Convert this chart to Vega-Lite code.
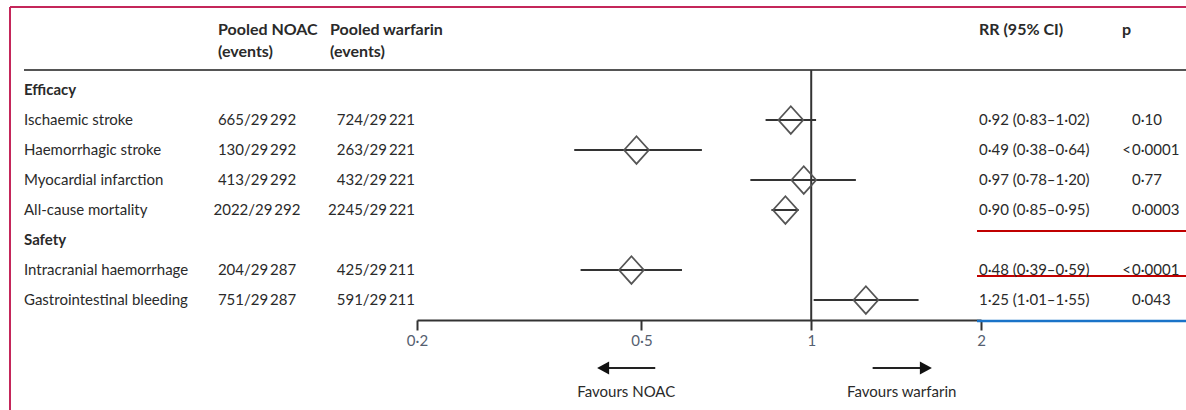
{
  "$schema": "https://vega.github.io/schema/vega-lite/v6.json",
  "padding": {"left": 9, "top": 6, "right": 0, "bottom": 0},
  "autosize": {"type": "pad"},
  "background": "white",
  "bounds": "flush",
  "spacing": 0,
  "config": {
    "view": {"stroke": null},
    "text": {"font": "Lato", "fontSize": 15, "color": "#2a2a2a"},
    "axis": {"grid": false, "title": null}
  },
  "datasets": {
    "rows": [
      {"label": "Ischaemic stroke", "noac": "665/29\u2009292", "warf": "724/29\u2009221", "rr": 0.92, "lo": 0.83, "hi": 1.02, "rrText": "0·92 (0·83–1·02)", "pSign": "", "pVal": "0·10"},
      {"label": "Haemorrhagic stroke", "noac": "130/29\u2009292", "warf": "263/29\u2009221", "rr": 0.49, "lo": 0.38, "hi": 0.64, "rrText": "0·49 (0·38–0·64)", "pSign": "<", "pVal": "0·0001"},
      {"label": "Myocardial infarction", "noac": "413/29\u2009292", "warf": "432/29\u2009221", "rr": 0.97, "lo": 0.78, "hi": 1.20, "rrText": "0·97 (0·78–1·20)", "pSign": "", "pVal": "0·77"},
      {"label": "All-cause mortality", "noac": "2022/29\u2009292", "warf": "2245/29\u2009221", "rr": 0.90, "lo": 0.85, "hi": 0.95, "rrText": "0·90 (0·85–0·95)", "pSign": "", "pVal": "0·0003"},
      {"label": "Intracranial haemorrhage", "noac": "204/29\u2009287", "warf": "425/29\u2009211", "rr": 0.48, "lo": 0.39, "hi": 0.59, "rrText": "0·48 (0·39–0·59)", "pSign": "<", "pVal": "0·0001"},
      {"label": "Gastrointestinal bleeding", "noac": "751/29\u2009287", "warf": "591/29\u2009211", "rr": 1.25, "lo": 1.01, "hi": 1.55, "rrText": "1·25 (1·01–1·55)", "pSign": "", "pVal": "0·043"}
    ],
    "sections": [{"label": "Efficacy"}, {"label": "Safety"}],
    "headers": [
      {"col": "noac", "line1": "Pooled NOAC", "line2": "(events)"},
      {"col": "warf", "line1": "Pooled warfarin", "line2": "(events)"},
      {"col": "rr", "line1": "RR (95% CI)", "line2": ""},
      {"col": "p", "line1": "p", "line2": ""}
    ],
    "favours": [
      {"side": "NOAC", "label": "Favours NOAC"},
      {"side": "warfarin", "label": "Favours warfarin"}
    ],
    "one": [{"part": "line"}]
  },
  "hconcat": [
    {
      "width": 204, "height": 313,
      "layer": [
        {"data": {"name": "one"}, "mark": {"type": "rule", "color": "#c4265a", "strokeWidth": 2, "yOffset": -23},
         "encoding": {"y": {"datum": "header", "type": "nominal", "scale": {"type": "point", "domain": ["header","gap","Efficacy","Ischaemic stroke","Haemorrhagic stroke","Myocardial infarction","All-cause mortality","Safety","Intracranial haemorrhage","Gastrointestinal bleeding"], "padding": 0.71667, "align": 0.535}, "axis": null}}},
        {"data": {"name": "one"}, "mark": {"type": "rule", "color": "#c4265a", "strokeWidth": 2, "yOffset": -23, "y2Offset": 110},
         "encoding": {"x": {"datum": 0, "type": "quantitative", "scale": {"domain": [0, 1]}, "axis": null},
                      "y": {"datum": "header", "type": "nominal", "axis": null},
                      "y2": {"datum": "Gastrointestinal bleeding"}}},
        {"data": {"name": "one"}, "mark": {"type": "rule", "color": "#555555", "strokeWidth": 2, "yOffset": 10, "xOffset": 14},
         "encoding": {"x": {"datum": 0, "type": "quantitative", "axis": null}, "x2": {"datum": 1},
                      "y": {"datum": "gap", "type": "nominal", "axis": null}}},
        {"data": {"name": "sections"}, "mark": {"type": "text", "align": "left", "baseline": "middle", "dx": -88, "fontWeight": "bold"},
         "encoding": {"y": {"field": "label", "type": "nominal", "axis": null}, "text": {"field": "label"}}},
        {"data": {"name": "rows"}, "mark": {"type": "text", "align": "left", "baseline": "middle", "dx": -88},
         "encoding": {"y": {"field": "label", "type": "nominal", "axis": null}, "text": {"field": "label"}}}
      ]
    },
    {
      "width": 86, "height": 313,
      "layer": [
        {"data": {"name": "one"}, "mark": {"type": "rule", "color": "#c4265a", "strokeWidth": 2, "yOffset": -23},
         "encoding": {"y": {"datum": "header", "type": "nominal", "scale": {"type": "point", "domain": ["header","gap","Efficacy","Ischaemic stroke","Haemorrhagic stroke","Myocardial infarction","All-cause mortality","Safety","Intracranial haemorrhage","Gastrointestinal bleeding"], "padding": 0.71667, "align": 0.535}, "axis": null}}},
        {"data": {"name": "one"}, "mark": {"type": "rule", "color": "#555555", "strokeWidth": 2, "yOffset": 10},
         "encoding": {"y": {"datum": "gap", "type": "nominal", "axis": null}}},
        {"data": {"name": "headers"}, "transform": [{"filter": "datum.col === 'noac'"}],
         "mark": {"type": "text", "align": "left", "baseline": "middle", "dx": -39, "fontWeight": "bold", "fontSize": 16},
         "encoding": {"y": {"datum": "header", "type": "nominal", "axis": null}, "text": {"field": "line1"}}},
        {"data": {"name": "headers"}, "transform": [{"filter": "datum.col === 'noac'"}],
         "mark": {"type": "text", "align": "left", "baseline": "middle", "dx": -39, "dy": 22, "fontWeight": "bold", "fontSize": 16},
         "encoding": {"y": {"datum": "header", "type": "nominal", "axis": null}, "text": {"field": "line2"}}},
        {"data": {"name": "rows"}, "mark": {"type": "text", "align": "center", "baseline": "middle"},
         "encoding": {"y": {"field": "label", "type": "nominal", "axis": null}, "text": {"field": "noac"}}}
      ]
    },
    {
      "width": 117, "height": 313,
      "layer": [
        {"data": {"name": "one"}, "mark": {"type": "rule", "color": "#c4265a", "strokeWidth": 2, "yOffset": -23},
         "encoding": {"y": {"datum": "header", "type": "nominal", "scale": {"type": "point", "domain": ["header","gap","Efficacy","Ischaemic stroke","Haemorrhagic stroke","Myocardial infarction","All-cause mortality","Safety","Intracranial haemorrhage","Gastrointestinal bleeding"], "padding": 0.71667, "align": 0.535}, "axis": null}}},
        {"data": {"name": "one"}, "mark": {"type": "rule", "color": "#555555", "strokeWidth": 2, "yOffset": 10},
         "encoding": {"y": {"datum": "gap", "type": "nominal", "axis": null}}},
        {"data": {"name": "headers"}, "transform": [{"filter": "datum.col === 'warf'"}],
         "mark": {"type": "text", "align": "left", "baseline": "middle", "dx": -28.5, "fontWeight": "bold", "fontSize": 16},
         "encoding": {"y": {"datum": "header", "type": "nominal", "axis": null}, "text": {"field": "line1"}}},
        {"data": {"name": "headers"}, "transform": [{"filter": "datum.col === 'warf'"}],
         "mark": {"type": "text", "align": "left", "baseline": "middle", "dx": -28.5, "dy": 22, "fontWeight": "bold", "fontSize": 16},
         "encoding": {"y": {"datum": "header", "type": "nominal", "axis": null}, "text": {"field": "line2"}}},
        {"data": {"name": "rows"}, "mark": {"type": "text", "align": "right", "baseline": "middle", "dx": 56.5},
         "encoding": {"y": {"field": "label", "type": "nominal", "axis": null}, "text": {"field": "warf"}}}
      ]
    },
    {
      "width": 564, "height": 313,
      "layer": [
        {"data": {"name": "one"}, "mark": {"type": "rule", "color": "#c4265a", "strokeWidth": 2, "yOffset": -23},
         "encoding": {"y": {"datum": "header", "type": "nominal", "scale": {"type": "point", "domain": ["header","gap","Efficacy","Ischaemic stroke","Haemorrhagic stroke","Myocardial infarction","All-cause mortality","Safety","Intracranial haemorrhage","Gastrointestinal bleeding"], "padding": 0.71667, "align": 0.535}, "axis": null}}},
        {"data": {"name": "one"}, "mark": {"type": "rule", "color": "#555555", "strokeWidth": 2, "yOffset": 10},
         "encoding": {"y": {"datum": "gap", "type": "nominal", "axis": null}}},
        {"data": {"name": "rows"}, "mark": {"type": "rule", "color": "#333333", "strokeWidth": 2},
         "encoding": {
           "x": {"field": "lo", "type": "quantitative", "scale": {"type": "log", "domain": [0.2, 2], "nice": false},
                 "axis": {"values": [0.2, 0.5, 1, 2], "labelExpr": "replace(format(datum.value, ''), '.', '·')", "domainColor": "#333333", "domainWidth": 2, "tickColor": "#333333", "tickWidth": 2, "tickSize": 10, "labelFont": "Lato", "labelFontSize": 15, "labelColor": "#556070", "labelPadding": 3, "labelFlush": false, "labelOverlap": false}},
           "x2": {"field": "hi"},
           "y": {"field": "label", "type": "nominal", "axis": null}}},
        {"data": {"name": "one"}, "mark": {"type": "rule", "color": "#333333", "strokeWidth": 2, "yOffset": 10, "y2Offset": 20},
         "encoding": {"x": {"datum": 1, "type": "quantitative",
                            "axis": {"values": [0.2, 0.5, 1, 2], "labelExpr": "replace(format(datum.value, ''), '.', '·')", "domainColor": "#333333", "domainWidth": 2, "tickColor": "#333333", "tickWidth": 2, "tickSize": 10, "labelFont": "Lato", "labelFontSize": 15, "labelColor": "#556070", "labelPadding": 3, "labelFlush": false, "labelOverlap": false}},
                      "y": {"datum": "gap", "type": "nominal", "axis": null},
                      "y2": {"datum": "Gastrointestinal bleeding"}}},
        {"data": {"name": "rows"}, "mark": {"type": "point", "shape": "M-0.9,0L0,-1L0.9,0L0,1Z", "filled": false, "size": 760, "stroke": "#555555", "strokeWidth": 1.8, "opacity": 1},
         "encoding": {"x": {"field": "rr", "type": "quantitative",
                            "axis": {"values": [0.2, 0.5, 1, 2], "labelExpr": "replace(format(datum.value, ''), '.', '·')", "domainColor": "#333333", "domainWidth": 2, "tickColor": "#333333", "tickWidth": 2, "tickSize": 10, "labelFont": "Lato", "labelFontSize": 15, "labelColor": "#556070", "labelPadding": 3, "labelFlush": false, "labelOverlap": false}},
                      "y": {"field": "label", "type": "nominal", "axis": null}}},
        {"data": {"name": "one"}, "mark": {"type": "rule", "color": "#222222", "strokeWidth": 2, "yOffset": 68},
         "encoding": {"x": {"datum": 0.4276, "type": "quantitative",
                            "axis": {"values": [0.2, 0.5, 1, 2], "labelExpr": "replace(format(datum.value, ''), '.', '·')", "domainColor": "#333333", "domainWidth": 2, "tickColor": "#333333", "tickWidth": 2, "tickSize": 10, "labelFont": "Lato", "labelFontSize": 15, "labelColor": "#556070", "labelPadding": 3, "labelFlush": false, "labelOverlap": false}},
                      "x2": {"datum": 0.529},
                      "y": {"datum": "Gastrointestinal bleeding", "type": "nominal", "axis": null}}},
        {"data": {"name": "one"}, "mark": {"type": "rule", "color": "#222222", "strokeWidth": 2, "yOffset": 68},
         "encoding": {"x": {"datum": 1.285, "type": "quantitative",
                            "axis": {"values": [0.2, 0.5, 1, 2], "labelExpr": "replace(format(datum.value, ''), '.', '·')", "domainColor": "#333333", "domainWidth": 2, "tickColor": "#333333", "tickWidth": 2, "tickSize": 10, "labelFont": "Lato", "labelFontSize": 15, "labelColor": "#556070", "labelPadding": 3, "labelFlush": false, "labelOverlap": false}},
                      "x2": {"datum": 1.597},
                      "y": {"datum": "Gastrointestinal bleeding", "type": "nominal", "axis": null}}},
        {"data": {"name": "one"}, "mark": {"type": "point", "shape": "M-1,0L1,-1.1L1,1.1Z", "filled": true, "size": 144, "color": "#111111", "opacity": 1, "yOffset": 68},
         "encoding": {"x": {"datum": 0.4276, "type": "quantitative",
                            "axis": {"values": [0.2, 0.5, 1, 2], "labelExpr": "replace(format(datum.value, ''), '.', '·')", "domainColor": "#333333", "domainWidth": 2, "tickColor": "#333333", "tickWidth": 2, "tickSize": 10, "labelFont": "Lato", "labelFontSize": 15, "labelColor": "#556070", "labelPadding": 3, "labelFlush": false, "labelOverlap": false}},
                      "y": {"datum": "Gastrointestinal bleeding", "type": "nominal", "axis": null}}},
        {"data": {"name": "one"}, "mark": {"type": "point", "shape": "M1,0L-1,-1.1L-1,1.1Z", "filled": true, "size": 144, "color": "#111111", "opacity": 1, "yOffset": 68},
         "encoding": {"x": {"datum": 1.597, "type": "quantitative",
                            "axis": {"values": [0.2, 0.5, 1, 2], "labelExpr": "replace(format(datum.value, ''), '.', '·')", "domainColor": "#333333", "domainWidth": 2, "tickColor": "#333333", "tickWidth": 2, "tickSize": 10, "labelFont": "Lato", "labelFontSize": 15, "labelColor": "#556070", "labelPadding": 3, "labelFlush": false, "labelOverlap": false}},
                      "y": {"datum": "Gastrointestinal bleeding", "type": "nominal", "axis": null}}},
        {"data": {"name": "favours"}, "transform": [{"filter": "datum.side === 'NOAC'"}],
         "mark": {"type": "text", "align": "center", "baseline": "middle", "dy": 92},
         "encoding": {"x": {"datum": 0.47, "type": "quantitative",
                            "axis": {"values": [0.2, 0.5, 1, 2], "labelExpr": "replace(format(datum.value, ''), '.', '·')", "domainColor": "#333333", "domainWidth": 2, "tickColor": "#333333", "tickWidth": 2, "tickSize": 10, "labelFont": "Lato", "labelFontSize": 15, "labelColor": "#556070", "labelPadding": 3, "labelFlush": false, "labelOverlap": false}},
                      "y": {"datum": "Gastrointestinal bleeding", "type": "nominal", "axis": null},
                      "text": {"field": "label"}}},
        {"data": {"name": "favours"}, "transform": [{"filter": "datum.side === 'warfarin'"}],
         "mark": {"type": "text", "align": "center", "baseline": "middle", "dy": 92},
         "encoding": {"x": {"datum": 1.447, "type": "quantitative",
                            "axis": {"values": [0.2, 0.5, 1, 2], "labelExpr": "replace(format(datum.value, ''), '.', '·')", "domainColor": "#333333", "domainWidth": 2, "tickColor": "#333333", "tickWidth": 2, "tickSize": 10, "labelFont": "Lato", "labelFontSize": 15, "labelColor": "#556070", "labelPadding": 3, "labelFlush": false, "labelOverlap": false}},
                      "y": {"datum": "Gastrointestinal bleeding", "type": "nominal", "axis": null},
                      "text": {"field": "label"}}}
      ]
    },
    {
      "width": 129, "height": 313,
      "layer": [
        {"data": {"name": "one"}, "mark": {"type": "rule", "color": "#c4265a", "strokeWidth": 2, "yOffset": -23},
         "encoding": {"y": {"datum": "header", "type": "nominal", "scale": {"type": "point", "domain": ["header","gap","Efficacy","Ischaemic stroke","Haemorrhagic stroke","Myocardial infarction","All-cause mortality","Safety","Intracranial haemorrhage","Gastrointestinal bleeding"], "padding": 0.71667, "align": 0.535}, "axis": null}}},
        {"data": {"name": "one"}, "mark": {"type": "rule", "color": "#555555", "strokeWidth": 2, "yOffset": 10},
         "encoding": {"y": {"datum": "gap", "type": "nominal", "axis": null}}},
        {"data": {"name": "one"}, "mark": {"type": "rule", "color": "#c00000", "strokeWidth": 2, "yOffset": 21, "xOffset": -4},
         "encoding": {"x": {"datum": 0, "type": "quantitative", "scale": {"domain": [0, 1]}, "axis": null}, "x2": {"datum": 1},
                      "y": {"datum": "All-cause mortality", "type": "nominal", "axis": null}}},
        {"data": {"name": "one"}, "mark": {"type": "rule", "color": "#c00000", "strokeWidth": 2, "yOffset": 6, "xOffset": -4},
         "encoding": {"x": {"datum": 0, "type": "quantitative", "axis": null}, "x2": {"datum": 1},
                      "y": {"datum": "Intracranial haemorrhage", "type": "nominal", "axis": null}}},
        {"data": {"name": "one"}, "mark": {"type": "rule", "color": "#1a73c8", "strokeWidth": 2.5, "yOffset": 21, "xOffset": -4},
         "encoding": {"x": {"datum": 0, "type": "quantitative", "axis": null}, "x2": {"datum": 1},
                      "y": {"datum": "Gastrointestinal bleeding", "type": "nominal", "axis": null}}},
        {"data": {"name": "headers"}, "transform": [{"filter": "datum.col === 'rr'"}],
         "mark": {"type": "text", "align": "left", "baseline": "middle", "dx": -66.5, "fontWeight": "bold", "fontSize": 16},
         "encoding": {"y": {"datum": "header", "type": "nominal", "axis": null}, "text": {"field": "line1"}}},
        {"data": {"name": "rows"}, "mark": {"type": "text", "align": "left", "baseline": "middle", "dx": -66.5},
         "encoding": {"y": {"field": "label", "type": "nominal", "axis": null}, "text": {"field": "rrText"}}}
      ]
    },
    {
      "width": 76, "height": 313,
      "layer": [
        {"data": {"name": "one"}, "mark": {"type": "rule", "color": "#c4265a", "strokeWidth": 2, "yOffset": -23},
         "encoding": {"y": {"datum": "header", "type": "nominal", "scale": {"type": "point", "domain": ["header","gap","Efficacy","Ischaemic stroke","Haemorrhagic stroke","Myocardial infarction","All-cause mortality","Safety","Intracranial haemorrhage","Gastrointestinal bleeding"], "padding": 0.71667, "align": 0.535}, "axis": null}}},
        {"data": {"name": "one"}, "mark": {"type": "rule", "color": "#555555", "strokeWidth": 2, "yOffset": 10},
         "encoding": {"y": {"datum": "gap", "type": "nominal", "axis": null}}},
        {"data": {"name": "one"}, "mark": {"type": "rule", "color": "#c00000", "strokeWidth": 2, "yOffset": 21},
         "encoding": {"y": {"datum": "All-cause mortality", "type": "nominal", "axis": null}}},
        {"data": {"name": "one"}, "mark": {"type": "rule", "color": "#c00000", "strokeWidth": 2, "yOffset": 6},
         "encoding": {"y": {"datum": "Intracranial haemorrhage", "type": "nominal", "axis": null}}},
        {"data": {"name": "one"}, "mark": {"type": "rule", "color": "#1a73c8", "strokeWidth": 2.5, "yOffset": 21},
         "encoding": {"y": {"datum": "Gastrointestinal bleeding", "type": "nominal", "axis": null}}},
        {"data": {"name": "headers"}, "transform": [{"filter": "datum.col === 'p'"}],
         "mark": {"type": "text", "align": "left", "baseline": "middle", "dx": -26, "fontWeight": "bold", "fontSize": 16},
         "encoding": {"y": {"datum": "header", "type": "nominal", "axis": null}, "text": {"field": "line1"}}},
        {"data": {"name": "rows"}, "mark": {"type": "text", "align": "left", "baseline": "middle", "dx": -16},
         "encoding": {"y": {"field": "label", "type": "nominal", "axis": null}, "text": {"field": "pVal"}}},
        {"data": {"name": "rows"}, "transform": [{"filter": "datum.pSign !== ''"}],
         "mark": {"type": "text", "align": "right", "baseline": "middle", "dx": -17},
         "encoding": {"y": {"field": "label", "type": "nominal", "axis": null}, "text": {"field": "pSign"}}}
      ]
    }
  ]
}
